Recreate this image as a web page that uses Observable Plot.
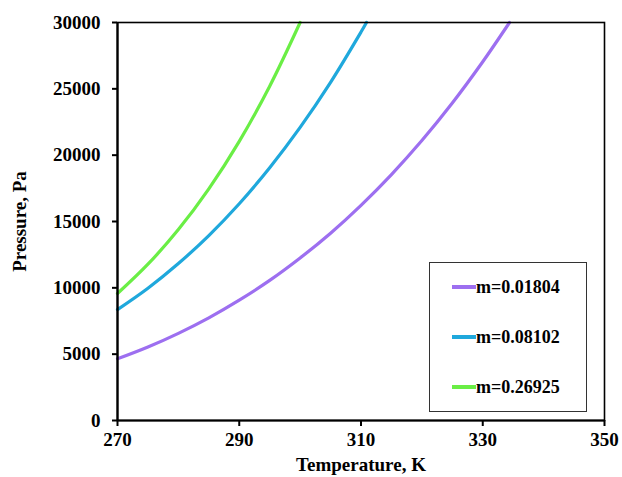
<!DOCTYPE html>
<html>
<head>
<meta charset="utf-8">
<script src="https://cdn.jsdelivr.net/npm/d3@7"></script>
<script src="https://cdn.jsdelivr.net/npm/@observablehq/plot@0.6"></script>
<style>
  html, body { margin: 0; padding: 0; background: #fff; }
  #wrap { position: relative; width: 622px; height: 477px; font-family: "Liberation Serif", "Times New Roman", serif; }
  #legend { position: absolute; left: 429px; top: 262px; width: 158px; height: 150px; border: 1px solid #333; background: #fff; box-sizing: border-box; }
  .item { position: absolute; left: 22px; display: flex; align-items: center; font-weight: bold; font-size: 18px; color: #000; line-height: 20px; }
  .item span.sw { display: inline-block; width: 24px; height: 3.5px; margin-right: 0px; }
</style>
</head>
<body>
<div id="wrap"></div>
<script>
const seriesNames = ["m=0.01804", "m=0.08102", "m=0.26925"];
const seriesColors = ["#9d6ff0", "#1fa8dc", "#6aee45"];

const tempPurple = [270, 275, 280, 285, 290, 295, 300, 305, 310, 315, 320, 325, 330, 334.4];
const presPurple = [4650, 5540, 6570, 7740, 9070, 10560, 12250, 14120, 16220, 18540, 21100, 23930, 27040, 30000];

const tempBlue = [270, 275, 280, 285, 290, 295, 300, 305, 310, 310.9];
const presBlue = [8360, 9970, 11830, 13940, 16340, 19050, 22090, 25490, 29280, 30000];

const tempGreen = [270, 275, 280, 285, 290, 295, 300];
const presGreen = [9570, 11780, 14390, 17460, 21040, 25200, 30000];

const xTicks = [270, 290, 310, 330, 350];
const yTicks = [0, 5000, 10000, 15000, 20000, 25000, 30000];

const data = [];
[[tempPurple, presPurple], [tempBlue, presBlue], [tempGreen, presGreen]].forEach(([ts, ps], i) => {
  ts.forEach((t, j) => data.push({series: seriesNames[i], T: t, P: ps[j]}));
});

const plot = Plot.plot({
  width: 622,
  height: 477,
  marginLeft: 117,
  marginRight: 18,
  marginTop: 22,
  marginBottom: 57,
  style: { fontFamily: "'Liberation Serif', 'Times New Roman', serif", fontSize: "19px", fontWeight: "bold", color: "#000", background: "#fff" },
  x: { domain: [270, 350], ticks: xTicks, tickSize: 6, tickPadding: 6, label: "Temperature, K", labelArrow: "none", labelAnchor: "center", labelOffset: 50, tickFormat: d => String(d) },
  y: { domain: [0, 30000], ticks: yTicks, tickSize: 5, tickPadding: 12, label: "Pressure, Pa", labelArrow: "none", labelAnchor: "center", labelOffset: 105, tickFormat: d => String(d) },
  color: { domain: seriesNames, range: seriesColors },
  marks: [
    Plot.line(data, { x: "T", y: "P", z: "series", stroke: "series", strokeWidth: 3.2, curve: "catmull-rom" }),
    Plot.frame({ stroke: "#000", strokeWidth: 1.6 }),
    Plot.ruleX([270], { stroke: "#000", strokeWidth: 2.2 }),
    Plot.ruleY([0], { stroke: "#000", strokeWidth: 2.2 })
  ]
});
plot.querySelectorAll("[aria-label='x-axis tick'], [aria-label='y-axis tick']").forEach(g => { g.setAttribute("stroke-width", "2"); });
const wrap = document.getElementById("wrap");
wrap.appendChild(plot);

const legend = document.createElement("div");
legend.id = "legend";
const tops = [24, 74, 124];
seriesNames.forEach((name, i) => {
  const it = document.createElement("div");
  it.className = "item";
  it.style.top = (tops[i] - 10) + "px";
  const sw = document.createElement("span");
  sw.className = "sw";
  sw.style.background = seriesColors[i];
  it.appendChild(sw);
  it.appendChild(document.createTextNode(name));
  legend.appendChild(it);
});
wrap.appendChild(legend);
</script>
</body>
</html>
